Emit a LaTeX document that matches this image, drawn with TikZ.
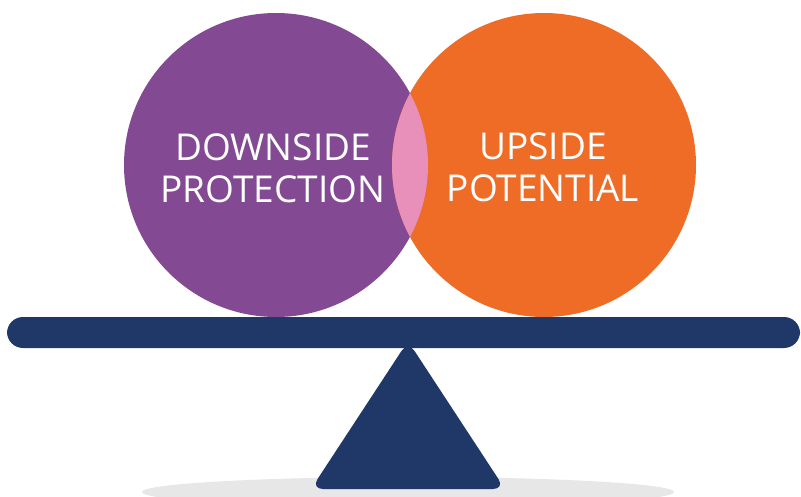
\documentclass[tikz,border=0pt]{standalone}
\usepackage{fontspec}
\setmainfont{Open Sans}
\usetikzlibrary{positioning}
\definecolor{scalepurple}{HTML}{834A93}
\definecolor{scaleorange}{HTML}{EE6C25}
\definecolor{scalepink}{HTML}{E890BA}
\definecolor{scalenavy}{HTML}{1F3867}
\definecolor{scaleshadow}{HTML}{E6E7E6}
\begin{document}
\begin{tikzpicture}
          [
            x=1pt,y=-1pt,
            label/.style={text=white,align=center,font=\fontsize{37}{42}\selectfont,inner sep=0pt},
            part/.style={fill=scalenavy,draw=none}
          ]
          \useasboundingbox (0,0) rectangle (801,497);
          \clip (0,0) rectangle (801,497);
          % shadow
          \fill [scaleshadow] (408,492) ellipse (266 and 15);
          % balls
          \fill [scalepurple] (276,165) circle (152);
          \fill [scaleorange] (544,165) circle (152);
          \begin{scope}
            \clip (276,165) circle (152);
            \fill [scalepink] (544,165) circle (152);
          \end{scope}
          \node[label] (down) at (273,168) {DOWNSIDE\\PROTECTION};
          \node[label] (up) at (543,167) {UPSIDE\\POTENTIAL};
          % fulcrum
          \draw [part,rounded corners=12] (311,489) -- (408,341) -- (505,489) -- cycle;
          % beam
          \draw [part,rounded corners=16] (7,317) rectangle (800,348);
        \end{tikzpicture}
\end{document}
